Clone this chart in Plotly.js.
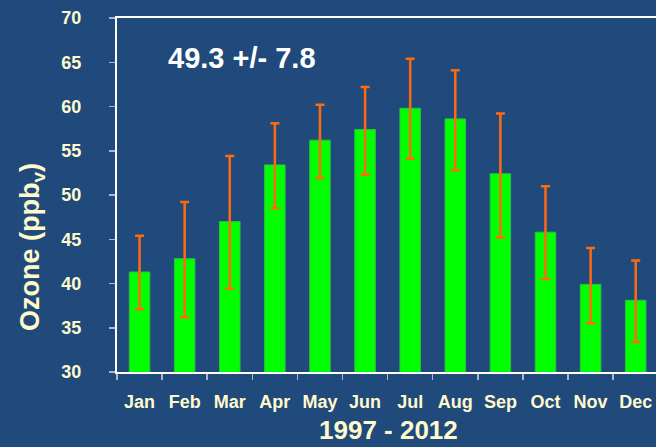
<!DOCTYPE html>
<html>
<head>
<meta charset="utf-8">
<script src="https://cdn.plot.ly/plotly-3.0.1.min.js"></script>
<style>html,body{margin:0;padding:0;background:#204a7b;overflow:hidden;}</style>
</head>
<body>
<div id="chart" style="width:656px;height:447px;"></div>
<script>
const months = ["Jan","Feb","Mar","Apr","May","Jun","Jul","Aug","Sep","Oct","Nov","Dec"];
const ozoneMean = [41.3, 42.8, 47.0, 53.4, 56.2, 57.4, 59.8, 58.6, 52.4, 45.8, 39.9, 38.1];
const errTop    = [45.4, 49.2, 54.4, 58.1, 60.2, 62.2, 65.4, 64.1, 59.2, 51.0, 44.0, 42.6];
const errBottom = [37.1, 36.2, 39.4, 48.5, 51.9, 52.3, 54.1, 52.8, 45.2, 40.5, 35.5, 33.4];
const yTicks = [30, 35, 40, 45, 50, 55, 60, 65, 70];
const summaryText = "49.3 +/- 7.8";
const xTitle = "1997 - 2012";
const yTitle = "Ozone (ppb<sub>v</sub>)";

const plus = errTop.map((v, i) => v - ozoneMean[i]);
const minus = errBottom.map((v, i) => ozoneMean[i] - v);

const cream = "#fffacd";
const font = {family: "Liberation Sans, Arial, sans-serif", weight: "bold"};

const trace = {
  type: "bar",
  x: months,
  y: ozoneMean,
  base: 0,
  width: 0.455,
  marker: {color: "#00ff00", line: {color: "#2fbf3f", width: 1}},
  error_y: {type: "data", symmetric: false, array: plus, arrayminus: minus,
            color: "#ff6a10", thickness: 2.5, width: 4.5},
  hoverinfo: "none"
};

const layout = {
  width: 656, height: 447,
  margin: {l: 117, r: 0, t: 18, b: 75, pad: 0},
  paper_bgcolor: "#204a7b",
  plot_bgcolor: "#204a7b",
  showlegend: false,
  xaxis: {
    type: "category",
    range: [-0.5, 11.45],
    tickson: "boundaries",
    ticks: "outside", ticklen: 6, tickwidth: 1.5, tickcolor: "#aab8cc",
    showline: true, linecolor: "#ffffff", linewidth: 2, mirror: true,
    showgrid: false, zeroline: false,
    ticklabelstandoff: 12,
    tickfont: Object.assign({size: 18, color: cream}, font)
  },
  yaxis: {
    range: [30, 70],
    tickvals: yTicks,
    ticks: "outside", ticklen: 6, tickwidth: 1.5, tickcolor: "#aab8cc",
    showline: true, linecolor: "#ffffff", linewidth: 2,
    showgrid: false, zeroline: false,
    ticklabelstandoff: 24,
    tickfont: Object.assign({size: 18, color: cream}, font)
  },
  annotations: [
    {text: summaryText, xref: "paper", yref: "paper", x: 0.232, y: 0.888,
     showarrow: false, xanchor: "center", yanchor: "middle",
     font: Object.assign({size: 29, color: "#ffffff"}, font)},
    {text: xTitle, xref: "paper", yref: "paper", x: 0.503, y: -0.165,
     showarrow: false, xanchor: "center", yanchor: "middle",
     font: Object.assign({size: 26, color: cream}, font)},
    {text: yTitle, xref: "paper", yref: "paper", x: -0.1577, y: 0.353,
     showarrow: false, xanchor: "center", yanchor: "middle", textangle: -90,
     font: Object.assign({size: 27, color: cream}, font)}
  ]
};

Plotly.newPlot("chart", [trace], layout, {displayModeBar: false, staticPlot: true});
</script>
</body>
</html>
